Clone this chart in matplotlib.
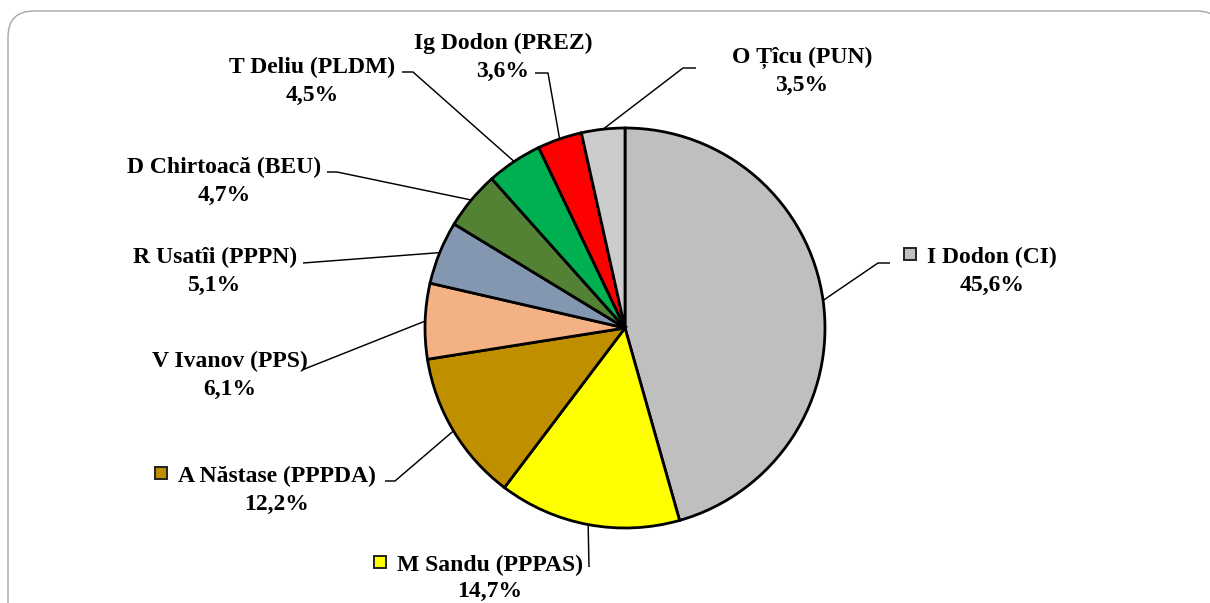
import matplotlib
matplotlib.use("Agg")
import matplotlib.pyplot as plt
from matplotlib.patches import FancyBboxPatch, Rectangle
import numpy as np

# ---- data ----
names = ["I Dodon (CI)", "M Sandu (PPPAS)", "A Năstase (PPPDA)", "V Ivanov (PPS)",
         "R Usatîi (PPPN)", "D Chirtoacă (BEU)", "T Deliu (PLDM)", "Ig Dodon (PREZ)",
         "O Țîcu (PUN)"]
shares = [45.6, 14.7, 12.2, 6.1, 5.1, 4.7, 4.5, 3.6, 3.5]
pct_labels = ["45,6%", "14,7%", "12,2%", "6,1%", "5,1%", "4,7%", "4,5%", "3,6%", "3,5%"]
colors = ["#BFBFBF", "#FFFF00", "#BF8F00", "#F4B183", "#8497B0", "#548235",
          "#00B050", "#FF0000", "#CCCCCC"]
with_key = [True, True, True, False, False, False, False, False, False]

# ---- layout (image pixels, y measured from top) ----
W, H = 1210, 603
center_px = (625, 328)
radius_px = 200
label_cx = [992, 490, 277, 230, 215, 224, 312, 503, 802]
label_base = [263, 571, 482, 367, 263, 173, 73, 49, 63]
line_gap = [28, 26, 28, 28, 28, 28, 28, 28, 28]
elbow = [(878, 263), (589, 567), (395, 481), (302, 370), (303, 263),
         (337, 172), (413, 72), (548, 73), (683, 68)]
tail = [(890, 263), (589, 567), (385, 481), (302, 370), (303, 263),
        (327, 172), (402, 72), (535, 73), (696, 68)]

def Y(y):
    return H - y

fig = plt.figure(figsize=(W / 100, H / 100), dpi=100)
ax = fig.add_axes([0, 0, 1, 1])
ax.set_xlim(0, W)
ax.set_ylim(0, H)
ax.set_aspect("equal")
ax.axis("off")

# rounded frame
frame = FancyBboxPatch((8, Y(11) - 640), 1215, 640,
                       boxstyle="round,pad=0,rounding_size=26",
                       facecolor="white", edgecolor="#A6A6A6", linewidth=1.0,
                       zorder=0)
ax.add_patch(frame)

wedges, _ = ax.pie(shares, colors=colors, startangle=90, counterclock=False,
                   center=(center_px[0], Y(center_px[1])), radius=radius_px,
                   wedgeprops=dict(edgecolor="black", linewidth=2.0),
                   frame=True)
ax.set_xlim(0, W)
ax.set_ylim(0, H)
ax.axis("off")

font = dict(family="Liberation Serif", weight="bold", size=17)

name_texts = []
for i, w in enumerate(wedges):
    ang = np.deg2rad((w.theta1 + w.theta2) / 2)
    sx = center_px[0] + radius_px * np.cos(ang)
    sy = Y(center_px[1]) + radius_px * np.sin(ang)
    ex, ey = elbow[i]
    tx, ty = tail[i]
    ax.plot([sx, ex, tx], [sy, Y(ey), Y(ty)], color="black", lw=1.05,
            solid_capstyle="butt", zorder=3)
    t = ax.text(label_cx[i], Y(label_base[i]), names[i], ha="center",
                va="baseline", color="black", zorder=4, **font)
    ax.text(label_cx[i], Y(label_base[i]) - line_gap[i], pct_labels[i], ha="center",
            va="baseline", color="black", zorder=4, **font)
    name_texts.append(t)

fig.canvas.draw()
renderer = fig.canvas.get_renderer()
for i, t in enumerate(name_texts):
    if not with_key[i]:
        continue
    bb = t.get_window_extent(renderer)
    x0 = bb.x0
    s = 12
    ax.add_patch(Rectangle((x0 - 11 - s, Y(label_base[i]) + 3), s, s,
                           facecolor=colors[i], edgecolor="#222222",
                           linewidth=1.4, zorder=4))

fig.savefig("out.png", dpi=100, facecolor="white")
